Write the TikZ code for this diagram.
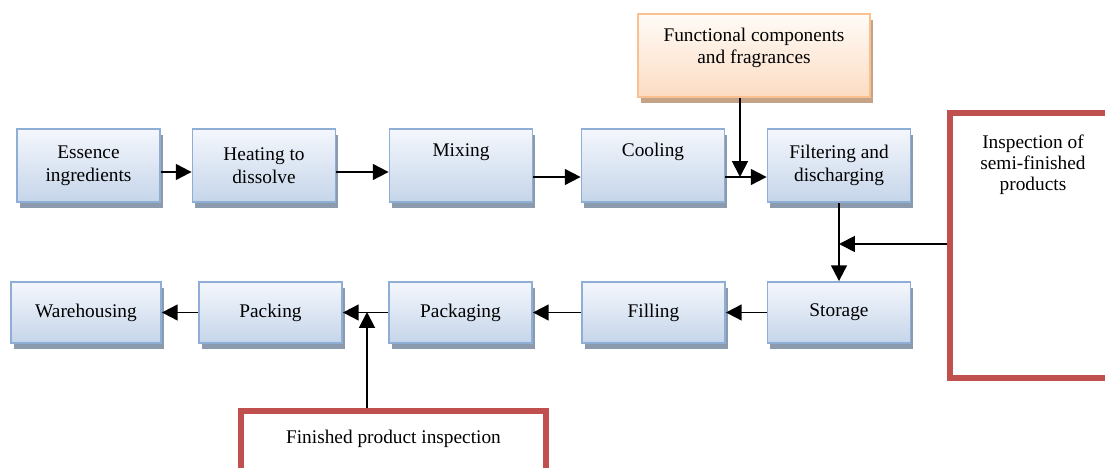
\documentclass[tikz,border=0pt]{standalone}
\usepackage{fontspec}
\setmainfont{Liberation Serif}
\usetikzlibrary{arrows.meta,shadows}
\definecolor{boxline}{HTML}{8EAED5}
\definecolor{boxtop}{HTML}{F4F7FC}
\definecolor{boxbot}{HTML}{C5D5EA}
\definecolor{boxshade}{HTML}{8C9AAE}
\definecolor{orline}{HTML}{FAC090}
\definecolor{ortop}{HTML}{FFFBF7}
\definecolor{orbot}{HTML}{FCDCC2}
\definecolor{orshade}{HTML}{C4A386}
\definecolor{inspred}{HTML}{C0504D}
\begin{document}
\begin{tikzpicture}[
  every node/.style={font=\fontsize{11}{13}\selectfont},
  basebox/.style={line width=1pt, align=center, inner sep=2pt,
    minimum width=2.86cm, minimum height=1.46cm},
  procbox/.style={basebox, draw=boxline, top color=boxtop, bottom color=boxbot,
    drop shadow={shadow xshift=0.05cm, shadow yshift=-0.12cm, fill=boxshade, opacity=1}},
  lowbox/.style={procbox, minimum height=1.22cm},
  addbox/.style={basebox, draw=orline, top color=ortop, bottom color=orbot,
    drop shadow={shadow xshift=0.05cm, shadow yshift=-0.12cm, fill=orshade, opacity=1}},
  oneline/.style={text height=8pt, text depth=17.7pt},
  inspbox/.style={draw=inspred, line width=3.4pt, align=center},
  insptext/.style={font=\fontsize{11}{11.7}\selectfont, align=center,
    anchor=north, inner sep=0pt, yshift=-0.5cm},
  flow/.style={-{Triangle[length=9pt,width=9pt]}, line width=1.1pt}
]
  \useasboundingbox (0,0) rectangle (22.1,-9.36);

  % upper row
  \node[procbox] (ess) at (1.77,-3.31) {Essence\\ingredients};
  \node[procbox] (heat) at (5.28,-3.31) {Heating to\\dissolve};
  \node[procbox, oneline] (mix) at (9.22,-3.31) {Mixing};
  \node[procbox, oneline] (cool) at (13.06,-3.31) {Cooling};
  \node[procbox] (filt) at (16.78,-3.31) {Filtering and\\discharging};
  \node[addbox, minimum width=4.64cm, minimum height=1.66cm,
    text depth=11pt] (func) at (15.08,-1.11)
    {Functional components\\and fragrances};

  % lower row
  \node[lowbox, minimum width=3cm] (ware) at (1.72,-6.25) {Warehousing};
  \node[lowbox] (pack) at (5.41,-6.25) {Packing};
  \node[lowbox] (pkg) at (9.21,-6.25) {Packaging};
  \node[lowbox] (fill) at (13.07,-6.25) {Filling};
  \node[lowbox] (stor) at (16.78,-6.25) {Storage};

  % inspections
  \node[inspbox, minimum width=3.32cm, minimum height=5.3cm,
    label={[insptext]north:{Inspection of\\semi-finished\\products}}]
    (semi) at (20.66,-4.91) {};
  \node[inspbox, minimum width=6.1cm, minimum height=1.78cm,
    text height=8pt, text depth=22.2pt] (fin) at (7.87,-9.11)
    {Finished product inspection};

  \coordinate (j1) at (14.8,-3.54);
  \coordinate (j2) at (16.78,-4.88);
  \coordinate (j3) at (7.34,-6.24);

  % connectors
  \draw[flow] ([yshift=-0.13cm]ess.east) -- ([yshift=-0.13cm]heat.west);
  \draw[flow] ([yshift=-0.13cm]heat.east) -- ([yshift=-0.13cm]mix.west);
  \draw[flow] ([yshift=-0.23cm]mix.east) -- ([yshift=-0.23cm]cool.west);
  \draw[flow] ([yshift=-0.23cm]cool.east) -- ([yshift=-0.23cm]filt.west);
  \draw[flow] (func.south -| j1) -- (j1);
  \draw[flow] (filt.south) -- (stor.north);
  \draw[flow] (semi.west |- j2) -- (j2);
  \draw[flow] (stor.west) -- (fill.east);
  \draw[flow] (fill.west) -- (pkg.east);
  \draw[flow] (pkg.west) -- (pack.east);
  \draw[flow] (pack.west) -- (ware.east);
  \draw[flow] (fin.north -| j3) -- (j3);
\end{tikzpicture}
\end{document}
